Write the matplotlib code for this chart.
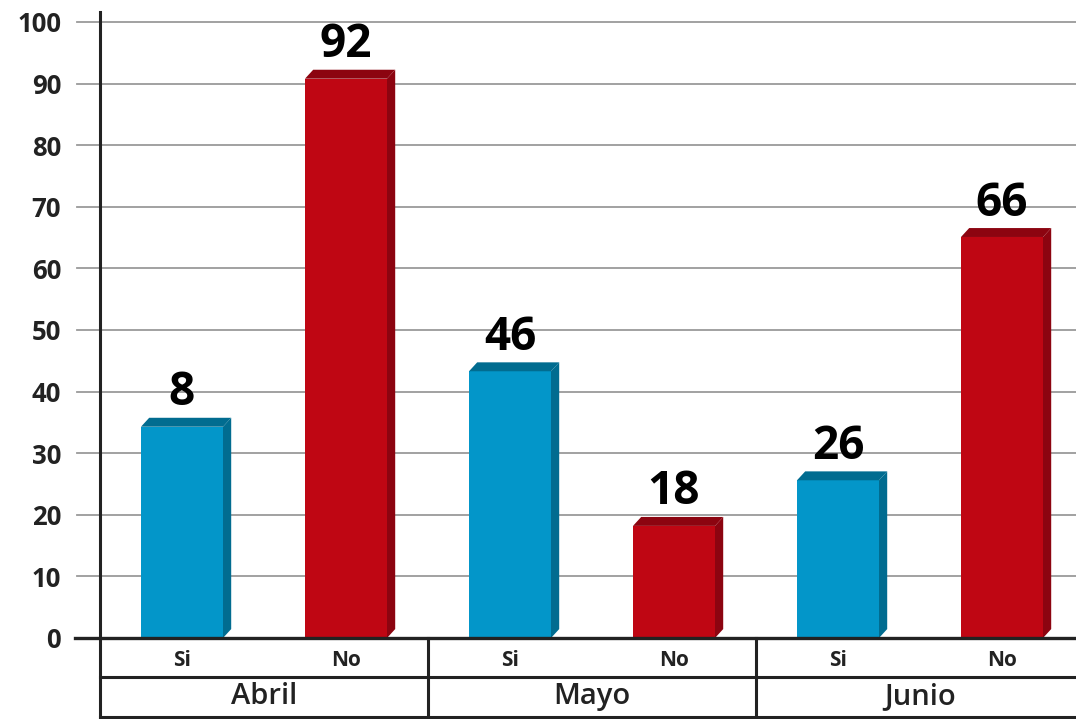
import numpy as np
import matplotlib.pyplot as plt
from matplotlib.patches import Polygon

plt.rcParams['font.family'] = ['Open Sans', 'DejaVu Sans']

meses = ['Abril', 'Mayo', 'Junio']
respuestas = ['Si', 'No']
alturas = [34.3, 90.8, 43.3, 18.2, 25.6, 65.1]
etiquetas = ['8', '92', '46', '18', '26', '66']
yticks = [0, 10, 20, 30, 40, 50, 60, 70, 80, 90, 100]

azul = '#0396c9'
azul_osc = '#016c90'
rojo = '#bf0613'
rojo_osc = '#8c0410'

fig = plt.figure(figsize=(10.76, 7.19), dpi=100)
ax = fig.add_axes([100 / 1076, 81 / 719, 984 / 1076, 616 / 719])
ax.set_xlim(-0.5, 5.5)
ax.set_ylim(0, 100)
for s in ax.spines.values():
    s.set_visible(False)
ax.set_xticks([])
ax.set_yticks(yticks)
ax.set_yticklabels([str(v) for v in yticks], fontsize=18.5, fontweight='bold', color='#222222')
ax.tick_params(axis='y', length=0, pad=28)

# lineas de la cuadricula
ytr = ax.get_yaxis_transform()
for v in yticks[1:]:
    ax.plot([-0.023, 1], [v, v], color='#9a9a9a', lw=1.3, transform=ytr, clip_on=False, zorder=1)

ancho = 0.5
dx = 0.05
dy = 1.45
x = np.arange(len(alturas))
colores = [azul, rojo] * 3
oscuros = [azul_osc, rojo_osc] * 3

ax.bar(x, alturas, width=ancho, color=colores, zorder=3)
for xi, h, c, lbl in zip(x, alturas, oscuros, etiquetas):
    x0 = xi - ancho / 2
    x1 = xi + ancho / 2
    lado = Polygon([(x1, 0), (x1 + dx, dy), (x1 + dx, h + dy), (x1, h)], closed=True,
                   facecolor=c, edgecolor='none', zorder=3)
    techo = Polygon([(x0, h), (x0 + dx, h + dy), (x1 + dx, h + dy), (x1, h)], closed=True,
                    facecolor=c, edgecolor='none', zorder=3)
    ax.add_patch(lado)
    ax.add_patch(techo)
    ax.annotate(lbl, xy=(xi, h + dy), xytext=(0, 9), textcoords='offset points',
                ha='center', va='baseline', fontsize=33, fontweight='bold', color='black')

# eje vertical y linea base
ax.plot([-0.5, -0.5], [-12.9, 101.6], color='#222222', lw=2.2, clip_on=False, zorder=5)
ax.plot([-0.65, 5.5], [0, 0], color='#222222', lw=2.4, clip_on=False, zorder=5)

# tabla de categorias
y1 = -39 / 6.16
y2 = -78.5 / 6.16
ax.plot([-0.5, 5.5], [y1, y1], color='#222222', lw=2.2, clip_on=False, zorder=5)
ax.plot([-0.5, 5.5], [y2, y2], color='#222222', lw=2.2, clip_on=False, zorder=5)
for g in range(1, len(meses)):
    ax.plot([2 * g - 0.5, 2 * g - 0.5], [0, y2], color='#222222', lw=2.2, clip_on=False, zorder=5)

for i in range(len(alturas)):
    ax.text(x[i], y1 / 2 - 0.5, respuestas[i % 2], ha='center', va='center', fontsize=15,
            fontweight='bold', color='#222222')
for g, mes in enumerate(meses):
    ax.text(2 * g + 0.5, (y1 + y2) / 2, mes, ha='center', va='center', fontsize=21,
            fontweight='semibold', color='#222222')

fig.savefig('out.png', dpi=100)
